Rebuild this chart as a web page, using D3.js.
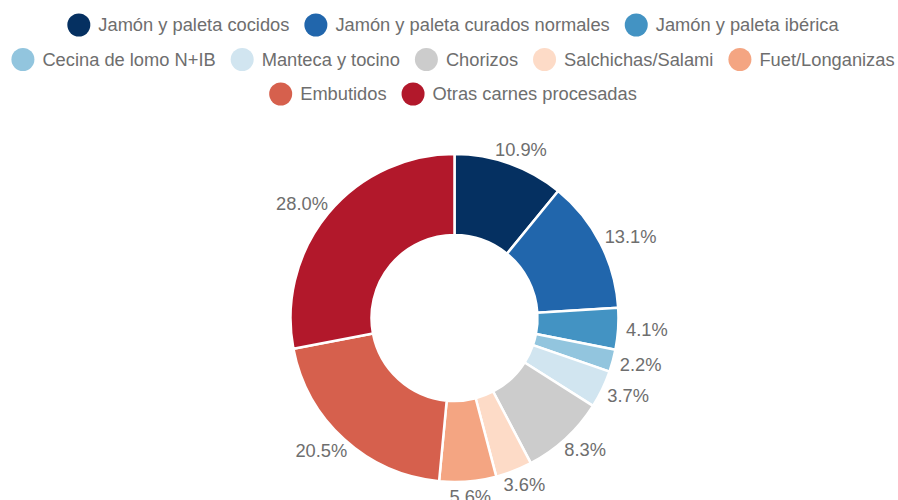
<!DOCTYPE html>
<html>
<head>
<meta charset="utf-8">
<script src="https://cdn.jsdelivr.net/npm/d3@7"></script>
<style>
  html, body { margin: 0; padding: 0; background: #fff; }
  svg { display: block; font-family: "Liberation Sans", Arial, sans-serif; }
</style>
</head>
<body>
<div id="chart"></div>
<script>
// datos del gráfico
const categories = [
  'Jamón y paleta cocidos',
  'Jamón y paleta curados normales',
  'Jamón y paleta ibérica',
  'Cecina de lomo N+IB',
  'Manteca y tocino',
  'Chorizos',
  'Salchichas/Salami',
  'Fuet/Longanizas',
  'Embutidos',
  'Otras carnes procesadas',
];
const shares = [10.9, 13.1, 4.1, 2.2, 3.7, 8.3, 3.6, 5.6, 20.5, 28.0];
const colors = ['#053061', '#2166ac', '#4393c3', '#92c5de', '#d1e5f0',
  '#cccccc', '#fddbc7', '#f4a582', '#d6604d', '#b2182b'];

function chartDonut(tagName) {
  const width = 898;
  const height = 500;
  const cx = 454.5; // centro del donut
  const cy = 318;
  const outer = 164;
  const inner = 83;
  const labelR = 172;
  const textColor = '#6e6e6e';
  const fontSize = '18.3px';

  const data = categories.map((name, i) => ({ name, value: shares[i], color: colors[i] }));

  const svg = d3
    .select(tagName)
    .append('svg')
    .attr('width', width)
    .attr('height', height)
    .attr('viewBox', `0 0 ${width} ${height}`);

  // leyenda: filas centradas, con salto de línea
  const legend = svg.append('g');
  const items = legend
    .selectAll('g')
    .data(data)
    .enter()
    .append('g');
  items
    .append('circle')
    .attr('r', 11.5)
    .attr('cx', 11.5)
    .attr('fill', (d) => d.color);
  items
    .append('text')
    .attr('x', 31)
    .attr('dy', '0.35em')
    .style('font-size', fontSize)
    .attr('fill', textColor)
    .text((d) => d.name);

  const gap = 15;
  const maxW = 892;
  const rows = [];
  let row = [];
  let rowW = 0;
  items.each(function () {
    const w = 31 + this.querySelector('text').getComputedTextLength();
    const add = row.length ? gap + w : w;
    if (row.length && rowW + add > maxW) {
      rows.push({ nodes: row, w: rowW });
      row = [];
      rowW = 0;
    }
    row.push({ node: this, w });
    rowW += row.length > 1 ? gap + w : w;
  });
  if (row.length) rows.push({ nodes: row, w: rowW });
  rows.forEach((r, ri) => {
    let x = 453 - r.w / 2;
    const y = 25 + ri * 34.5;
    r.nodes.forEach((it) => {
      d3.select(it.node).attr('transform', `translate(${x}, ${y})`);
      x += it.w + gap;
    });
  });

  // donut
  const pie = d3.pie().value((d) => d.value).sort(null);
  const arc = d3.arc().innerRadius(inner).outerRadius(outer);
  const g = svg.append('g').attr('transform', `translate(${cx}, ${cy})`);
  const arcs = pie(data);

  g.selectAll('path')
    .data(arcs)
    .enter()
    .append('path')
    .attr('d', arc)
    .attr('fill', (d) => d.data.color)
    .attr('stroke', '#fff')
    .attr('stroke-width', 2.5)
    .attr('stroke-linejoin', 'round');

  // etiquetas de porcentaje fuera del anillo
  const labels = g
    .selectAll('text.pct')
    .data(arcs)
    .enter()
    .append('text')
    .attr('class', 'pct')
    .attr('text-anchor', 'middle')
    .attr('dy', '0.35em')
    .style('font-size', fontSize)
    .attr('fill', textColor)
    .text((d) => d.data.value.toFixed(1) + '%');

  labels.each(function (d) {
    const a = (d.startAngle + d.endAngle) / 2;
    const s = Math.sin(a);
    const c = Math.cos(a);
    const hw = this.getComputedTextLength() / 2;
    const hh = 7;
    const x = labelR * s + hw * s;
    const y = -labelR * c - hh * c;
    d3.select(this).attr('x', x).attr('y', y);
  });
}

chartDonut('#chart');
</script>
</body>
</html>
